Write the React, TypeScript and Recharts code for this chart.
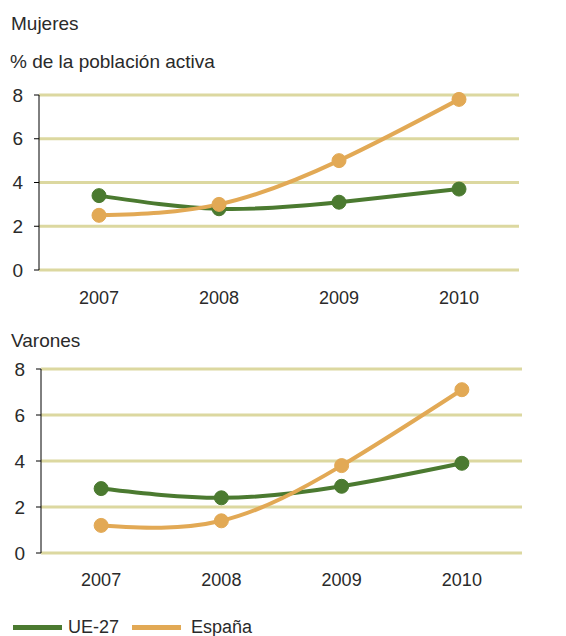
import React from "react";
import {
  LineChart,
  Line,
  XAxis,
  YAxis,
  CartesianGrid,
} from "recharts";

const years = ["2007", "2008", "2009", "2010"];
const yTicks = [0, 2, 4, 6, 8];

// Mujeres, % de la población activa
const mujeresUE = [3.4, 2.8, 3.1, 3.7];
const mujeresEsp = [2.5, 3.0, 5.0, 7.8];

// Varones
const varonesUE = [2.8, 2.4, 2.9, 3.9];
const varonesEsp = [1.2, 1.4, 3.8, 7.1];

const seriesNames = ["UE-27", "España"];
const GREEN = "#4b7a30";
const ORANGE = "#e2a955";
const GRID = "#dcd8a0";
const FONT = "'Liberation Sans', Arial, sans-serif";

const buildData = (ue: number[], esp: number[]) =>
  years.map((year, i) => ({ year, pos: i, ue: ue[i], esp: esp[i] }));

interface PanelProps {
  data: { year: string; pos: number; ue: number; esp: number }[];
  top: number;
  height: number;
  margin: { top: number; right: number; bottom: number; left: number };
  yWidth: number;
  labelMargin: number;
}

function Panel({ data, top, height, margin, yWidth, labelMargin }: PanelProps) {
  return (
    <div style={{ position: "absolute", left: 0, top }}>
      <LineChart width={566} height={height} data={data} margin={margin}>
        <CartesianGrid
          horizontal
          vertical={false}
          stroke={GRID}
          strokeWidth={3}
          yAxisId="y"
          xAxisId="cat"
        />
        {/* tick marks between the categories, Excel style */}
        <XAxis
          xAxisId="edge"
          type="number"
          dataKey="pos"
          domain={[0, 4]}
          allowDataOverflow
          ticks={[0, 1, 2, 3, 4]}
          tickFormatter={() => ""}
          height={0}
          tickSize={5}
          stroke="#000"
          tickLine={{ stroke: "#000" }}
          axisLine={{ stroke: "#000" }}
        />
        <XAxis
          xAxisId="cat"
          dataKey="year"
          type="category"
          scale="band"
          height={30}
          axisLine={false}
          tickLine={false}
          tickMargin={labelMargin}
          tick={{ fill: "#2a2a2a", fontSize: 18, fontFamily: FONT }}
        />
        <YAxis
          yAxisId="y"
          domain={[0, 8]}
          ticks={yTicks}
          width={yWidth}
          tickSize={5}
          tickMargin={11}
          stroke="#000"
          axisLine={{ stroke: "#000" }}
          tickLine={{ stroke: "#000" }}
          tick={{ fill: "#2a2a2a", fontSize: 19, fontFamily: FONT }}
        />
        <Line
          xAxisId="cat"
          yAxisId="y"
          type="natural"
          dataKey="ue"
          name={seriesNames[0]}
          stroke={GREEN}
          strokeWidth={4}
          dot={{ r: 7, fill: GREEN, stroke: GREEN, strokeWidth: 1 }}
          isAnimationActive={false}
        />
        <Line
          xAxisId="cat"
          yAxisId="y"
          type="natural"
          dataKey="esp"
          name={seriesNames[1]}
          stroke={ORANGE}
          strokeWidth={4}
          dot={{ r: 7, fill: ORANGE, stroke: ORANGE, strokeWidth: 1 }}
          isAnimationActive={false}
        />
      </LineChart>
    </div>
  );
}

const textStyle: React.CSSProperties = {
  position: "absolute",
  fontFamily: FONT,
  fontSize: 19,
  lineHeight: "20px",
  color: "#2a2a2a",
  whiteSpace: "nowrap",
};

export default function App() {
  return (
    <div
      style={{
        position: "absolute",
        left: 0,
        top: 0,
        width: 566,
        height: 636,
        background: "#fff",
        overflow: "hidden",
      }}
    >
      <div style={{ ...textStyle, left: 11, top: 14 }}>Mujeres</div>
      <div style={{ ...textStyle, left: 10, top: 52 }}>
        % de la población activa
      </div>
      <Panel
        data={buildData(mujeresUE, mujeresEsp)}
        top={0}
        height={310}
        margin={{ top: 95, right: 47, bottom: 10, left: 0 }}
        yWidth={39}
        labelMargin={15}
      />
      <div style={{ ...textStyle, left: 11, top: 331 }}>Varones</div>
      <Panel
        data={buildData(varonesUE, varonesEsp)}
        top={300}
        height={300}
        margin={{ top: 69, right: 44, bottom: 17, left: 0 }}
        yWidth={41}
        labelMargin={14}
      />
      <div
        style={{
          position: "absolute",
          left: 13,
          top: 617,
          display: "flex",
          alignItems: "center",
          fontFamily: FONT,
          fontSize: 18,
          color: "#2a2a2a",
        }}
      >
        {seriesNames.map((name, i) => (
          <div key={name} style={{ display: "flex", alignItems: "center" }}>
            <span
              style={{
                display: "inline-block",
                width: 49,
                height: 5,
                background: i === 0 ? GREEN : ORANGE,
                marginRight: i === 0 ? 6 : 10,
              }}
            />
            <span style={{ marginRight: 13 }}>{name}</span>
          </div>
        ))}
      </div>
    </div>
  );
}
